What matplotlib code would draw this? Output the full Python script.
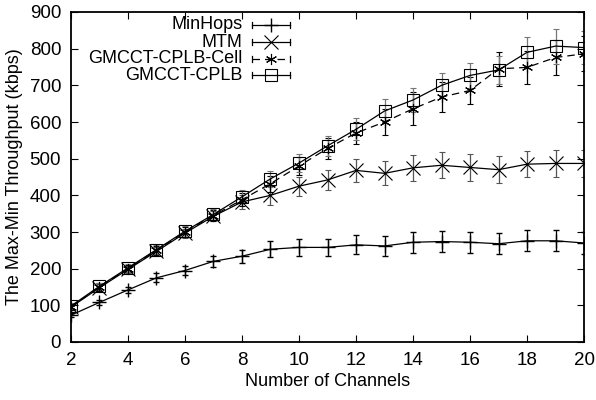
import numpy as np
import matplotlib
matplotlib.use("Agg")
import matplotlib.pyplot as plt

plt.rcParams['font.family'] = ['Liberation Sans', 'DejaVu Sans']

channels = list(range(2, 21))

minhops = [73, 108, 142, 175, 195, 220, 234, 253, 258, 258, 265, 262, 272, 274, 272, 268, 276, 276, 270]
minhops_err = [5, 6, 8, 12, 12, 15, 18, 22, 24, 24, 26, 27, 28, 29, 28, 28, 29, 29, 29]

mtm = [95, 148, 198, 247, 297, 343, 382, 400, 425, 442, 468, 460, 475, 482, 476, 470, 485, 487, 487]
mtm_err = [8, 10, 10, 12, 12, 14, 18, 25, 26, 28, 32, 33, 35, 36, 36, 36, 36, 38, 38]

cell = [96, 150, 200, 250, 300, 345, 388, 432, 480, 528, 570, 600, 636, 668, 686, 745, 749, 776, 786]
cell_err = [8, 10, 10, 12, 14, 15, 18, 22, 25, 28, 30, 35, 45, 40, 38, 47, 45, 48, 48]

cplb = [98, 152, 202, 252, 302, 348, 396, 445, 488, 535, 580, 630, 660, 700, 727, 742, 790, 807, 803]
cplb_err = [8, 10, 12, 12, 15, 15, 18, 22, 25, 28, 30, 32, 34, 34, 34, 38, 43, 48, 45]

labels = ['MinHops', 'MTM', 'GMCCT-CPLB-Cell', 'GMCCT-CPLB']

fig = plt.figure(figsize=(5.96, 4.0), dpi=100)
ax = fig.add_axes([0.119, 0.145, 0.861, 0.825])

common = dict(capsize=2.5, elinewidth=0.9, capthick=0.9, lw=0.9, color='black')

ax.errorbar(channels, minhops, yerr=minhops_err, marker='+', ms=10, mew=1.0,
            ecolor='black', **common)
ax.errorbar(channels, mtm, yerr=mtm_err, marker='x', ms=10, mew=0.8,
            ecolor='#555555', **common)
ax.errorbar(channels, cell, yerr=cell_err, marker=(6, 2, 0), ms=8, mew=0.8,
            ecolor='black', ls=(0, (6, 4)), **common)
ax.errorbar(channels, cplb, yerr=cplb_err, marker='s', ms=8, mew=0.8,
            mfc='none', ecolor='#777777', **common)

ax.set_xlim(2, 20)
ax.set_ylim(0, 900)
ax.set_xticks(range(2, 21, 2))
ax.set_yticks(range(0, 901, 100))
ax.tick_params(direction='in', top=True, right=True, length=5, labelsize=13.5, pad=7)
for s in ax.spines.values():
    s.set_linewidth(1.3)

ax.set_xlabel('Number of Channels', fontsize=13, labelpad=3)
ax.set_ylabel('The Max-Min Throughput (kbps)', fontsize=13, labelpad=5)

# gnuplot style key: text right aligned, sample to its right
styles = [
    dict(marker='+', ms=10, mew=1.0, ls='-'),
    dict(marker='x', ms=10, mew=0.8, ls='-'),
    dict(marker=(6, 2, 0), ms=8, mew=0.8, ls=(0, (6, 4))),
    dict(marker='s', ms=8, mew=0.8, mfc='none', ls='-'),
]
rows = [0.961, 0.909, 0.858, 0.809]
for lab, st, yy in zip(labels, styles, rows):
    ax.text(0.335, yy, lab, transform=ax.transAxes, ha='right', va='center', fontsize=13)
    ax.plot([0.353, 0.427], [yy, yy], transform=ax.transAxes, color='black', lw=0.9,
            ls=st['ls'], clip_on=False)
    ax.plot([0.353, 0.353], [yy - 0.01, yy + 0.01], transform=ax.transAxes, color='black', lw=0.9)
    ax.plot([0.427, 0.427], [yy - 0.01, yy + 0.01], transform=ax.transAxes, color='black', lw=0.9)
    ax.plot([0.39], [yy], transform=ax.transAxes, color='black', marker=st['marker'],
            ms=st['ms'], mew=st['mew'], mfc=st.get('mfc', 'black'), ls='none')

fig.savefig('out.png', dpi=100)
